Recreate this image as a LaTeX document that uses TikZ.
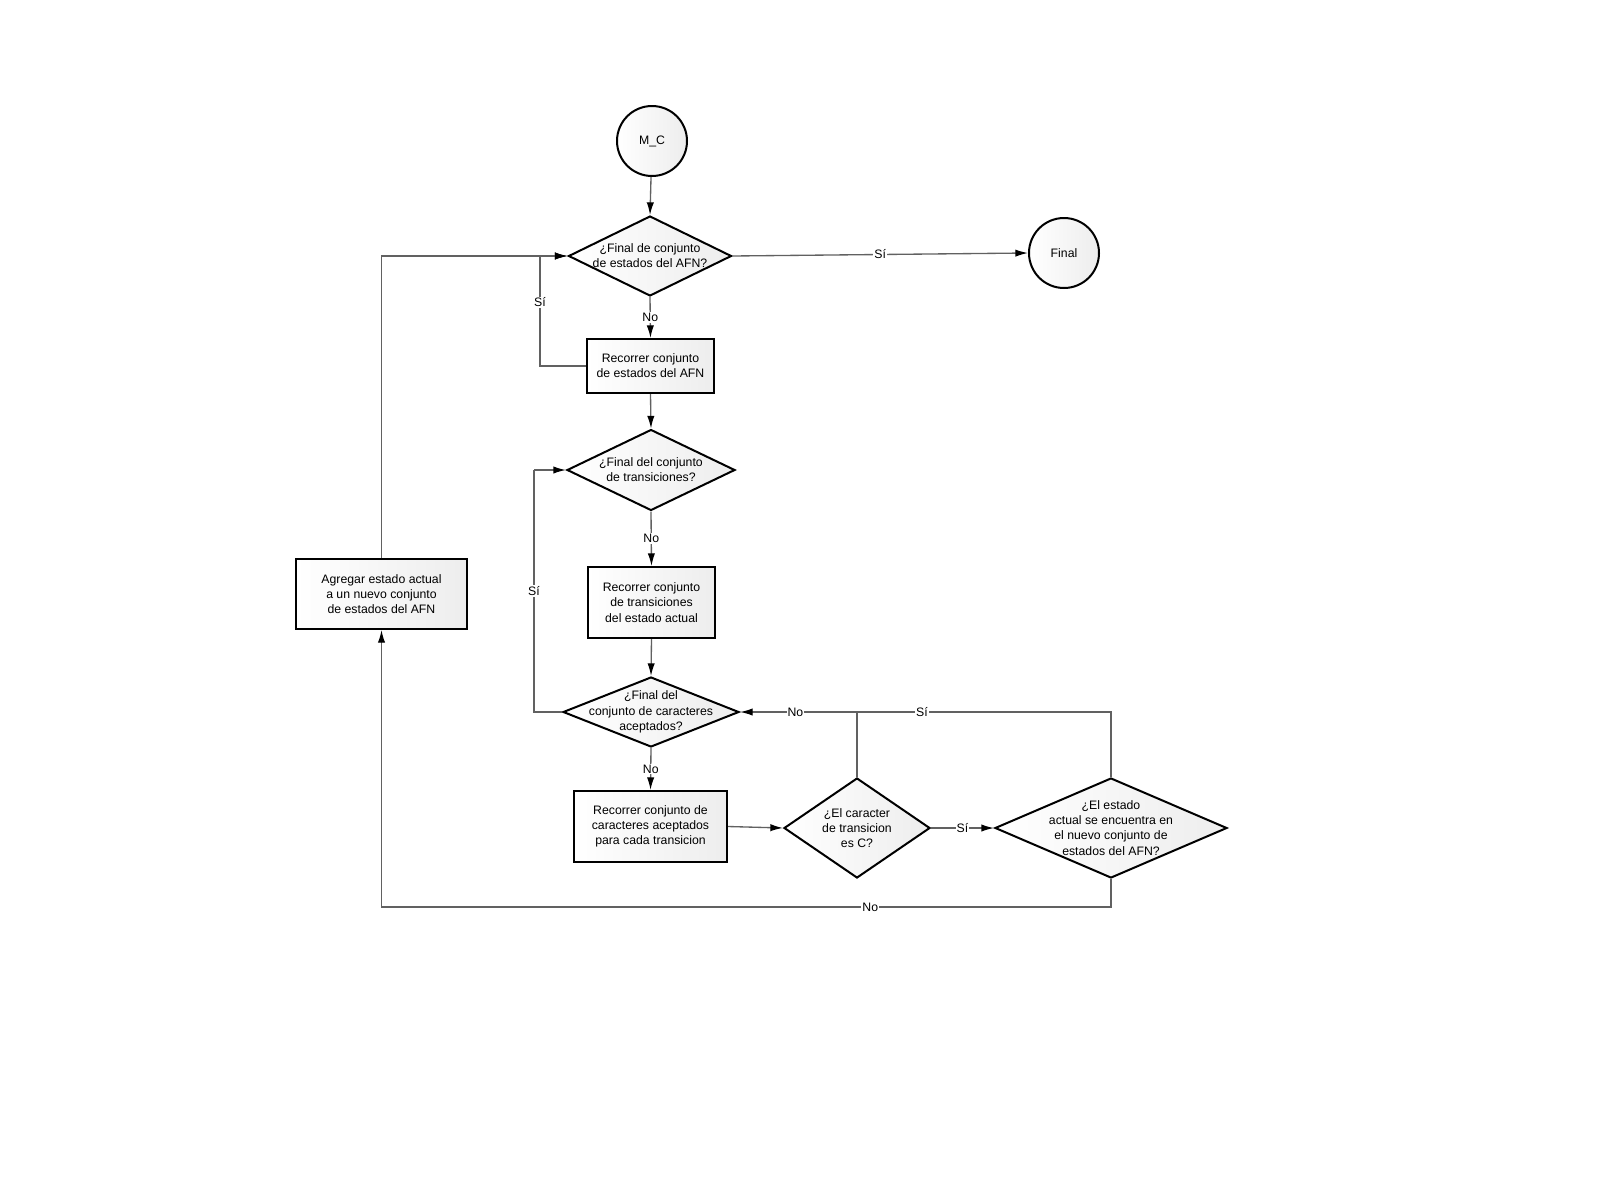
\documentclass[tikz,border=0pt]{standalone}
\usepackage{fontspec}
\setmainfont{Liberation Sans}
\usetikzlibrary{shapes.geometric,arrows.meta}
\begin{document}
\begin{tikzpicture}[x=0.75pt,y=-0.75pt,
  every node/.style={font=\fontsize{9.2}{11.4}\selectfont},
  shp/.style={draw=black,line width=1.5pt,left color=white,right color=black!7,inner sep=0pt},
  proc/.style={shp,rectangle},
  term/.style={shp,circle,minimum size=52.5pt},
  dec/.style={shp,diamond},
  txt/.style={align=center,inner sep=0pt},
  conn/.style={draw=black!62,line width=1pt,-{Latex[length=9.5pt,width=5.5pt,color=black]}},
  plain/.style={draw=black!62,line width=1pt},
  lbl/.style={fill=white,inner sep=0.8pt}]
\useasboundingbox[fill=white] (0,0) rectangle (1600,1200);

% terminals
\node[term] (mc) at (652,141) {M\_C};
\node[term] (final) at (1064,253) {Final};

% decisions
\node[dec,minimum width=122.25pt,minimum height=60pt] (d1) at (650,256) {};
\node[txt] (d1t) at (d1) {¿Final de conjunto\\de estados del AFN?};
\node[dec,minimum width=126pt,minimum height=60.75pt] (d2) at (651,470) {};
\node[txt] (d2t) at (d2) {¿Final del conjunto\\de transiciones?};
\node[dec,minimum width=132pt,minimum height=52.5pt] (d3) at (651,712) {};
\node[txt] (d3t) at (d3) {¿Final del\\conjunto de caracteres\\aceptados?};
\node[dec,minimum width=109.5pt,minimum height=75pt] (d4) at (857,828) {};
\node[txt] (d4t) at (d4) {¿El caracter\\de transicion\\es C?};
\node[dec,minimum width=174pt,minimum height=75pt] (d5) at (1111,828) {};
\node[txt] (d5t) at (d5) {¿El estado\\actual se encuentra en\\el nuevo conjunto de\\estados del AFN?};

% processes
\node[proc,minimum width=95.25pt,minimum height=40.5pt,align=center] (b1) at (650.5,366) {Recorrer conjunto\\de estados del AFN};
\node[proc,minimum width=95.25pt,minimum height=53.25pt,align=center] (b2) at (651.5,602.5) {Recorrer conjunto\\de transiciones\\del estado actual};
\node[proc,minimum width=114.75pt,minimum height=53.25pt,align=center] (b3) at (650.5,826.5) {Recorrer conjunto de\\caracteres aceptados\\para cada transicion};
\node[proc,minimum width=128.25pt,minimum height=52.5pt,align=center] (ag) at (381.5,594) {Agregar estado actual\\a un nuevo conjunto\\de estados del AFN};

% junction coordinates
\coordinate (j1) at (540,256);
\coordinate (j2) at (534,470);
\coordinate (j3) at (857,712);

% connectors
\draw[conn] (mc) -- (d1.north);
\draw[conn] (d1.east) -- node[lbl] {Sí} (final.west);
\draw[conn] (d1.south) -- node[lbl] {No} (b1.north);
\draw[plain] (b1.west) -| node[lbl,pos=0.79] {Sí} (j1);
\draw[conn] (j1) -- (d1.west);
\draw[conn] (ag.north) |- (d1.west);
\draw[conn] (b1.south) -- (d2.north);
\draw[conn] (d2.south) -- node[lbl] {No} (b2.north);
\draw[conn] (b2.south) -- (d3.north);
\draw[plain] (d3.west) -| node[lbl,pos=0.75] {Sí} (j2);
\draw[conn] (j2) -- (d2.west);
\draw[conn] (d3.south) -- node[lbl] {No} (b3.north);
\draw[conn] (b3.east) -- (d4.west);
\draw[conn] (d4.east) -- node[lbl] {Sí} (d5.west);
\draw[conn] (d4.north) |- node[lbl,pos=0.763] {No} (d3.east);
\draw[plain] (d5.north) |- node[lbl,pos=0.872] {Sí} (j3);
\draw[conn] (d5.south) -- ++(0,28) -| node[lbl,pos=0.165] {No} (ag.south);
\end{tikzpicture}
\end{document}
